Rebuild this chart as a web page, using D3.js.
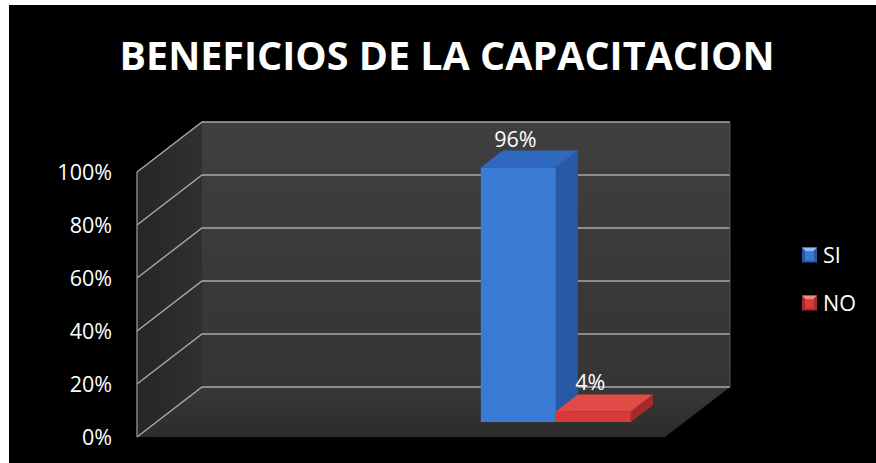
<!DOCTYPE html>
<html>
<head>
<meta charset="utf-8">
<script src="https://cdn.jsdelivr.net/npm/d3@7"></script>
<style>
  html, body { margin: 0; padding: 0; background: #fff; }
  svg { display: block; }
</style>
</head>
<body>
<svg id="chart" width="876" height="463"></svg>
<script>
// Chart data
const title = "BENEFICIOS DE LA CAPACITACION";
const categories = ["Beneficios"];
const series = ["SI", "NO"];
const values = [0.96, 0.04];
const valueLabels = ["96%", "4%"];
const ticks = [0, 0.2, 0.4, 0.6, 0.8, 1];
const tickLabels = ["0%", "20%", "40%", "60%", "80%", "100%"];

const W = 876, H = 463;
const svg = d3.select("#chart");
const font = "'Open Sans', 'Liberation Sans', sans-serif";

// Frame: white margin on top/left, black chart area
svg.append("rect").attr("width", W).attr("height", H).attr("fill", "#fff");
svg.append("rect").attr("x", 9).attr("y", 5).attr("width", W - 9).attr("height", H - 5).attr("fill", "#000");

// 3D geometry: front plane scales plus a depth offset for the back wall
const x = d3.scaleBand().domain(categories).range([137, 665])
  .paddingInner(0).paddingOuter(1.26).align(0.858);
const xs = d3.scaleBand().domain(series).range([0, x.bandwidth()]);
const y = d3.scaleLinear().domain([0, 1]).range([437, 172]);
const depth = { dx: 65, dy: -50 };
const x0 = 137, x1 = 665;

const defs = svg.append("defs");
const wallGrad = defs.append("linearGradient").attr("id", "wall").attr("x1", 0).attr("y1", 0).attr("x2", 0).attr("y2", 1);
wallGrad.append("stop").attr("offset", 0).attr("stop-color", "#3f3f3f");
wallGrad.append("stop").attr("offset", 1).attr("stop-color", "#353535");
const sideGrad = defs.append("linearGradient").attr("id", "side").attr("x1", 0).attr("y1", 0).attr("x2", 1).attr("y2", 0);
sideGrad.append("stop").attr("offset", 0).attr("stop-color", "#262626");
sideGrad.append("stop").attr("offset", 1).attr("stop-color", "#303030");
const floorGrad = defs.append("linearGradient").attr("id", "floor").attr("x1", 0).attr("y1", 0).attr("x2", 0).attr("y2", 1);
floorGrad.append("stop").attr("offset", 0).attr("stop-color", "#383838");
floorGrad.append("stop").attr("offset", 1).attr("stop-color", "#2c2c2c");

const line = d3.line();
const pt = (px, py, f) => [px + depth.dx * f, py + depth.dy * f];

// Back wall
svg.append("path")
  .attr("d", line([pt(x0, y(1), 1), pt(x1, y(1), 1), pt(x1, y(0), 1), pt(x0, y(0), 1)]) + "Z")
  .attr("fill", "url(#wall)");
// Side wall
svg.append("path")
  .attr("d", line([[x0, y(1)], pt(x0, y(1), 1), pt(x0, y(0), 1), [x0, y(0)]]) + "Z")
  .attr("fill", "url(#side)");
// Floor
svg.append("path")
  .attr("d", line([[x0, y(0)], [x1, y(0)], pt(x1, y(0), 1), pt(x0, y(0), 1)]) + "Z")
  .attr("fill", "url(#floor)");

// Gridlines across side wall and back wall
const grid = svg.append("g").attr("stroke", "#a9a9a9").attr("stroke-width", 1.4).attr("fill", "none");
ticks.forEach(t => {
  grid.append("path").attr("d", line([[x0, y(t)], pt(x0, y(t), 1), pt(x1, y(t), 1)]));
});
// Front edge of side wall
grid.append("path").attr("d", line([[x0, y(1)], [x0, y(0)]])).attr("stroke", "#8a8a8a");
// Right edge of back wall
svg.append("path").attr("d", line([pt(x1, y(1), 1), pt(x1, y(0), 1)]))
  .attr("stroke", "#555").attr("stroke-width", 1).attr("fill", "none");

// Axis labels
svg.append("g").selectAll("text").data(ticks).join("text")
  .attr("x", 112).attr("y", d => y(d)).attr("dy", "0.36em")
  .attr("text-anchor", "end").attr("fill", "#fff")
  .attr("font-family", font).attr("font-size", 21.5)
  .text((d, i) => tickLabels[i]);

// Bars
const colors = {
  SI: { front: "#3a7bd5", side: "#2859a6", top: "#3068c0" },
  NO: { front: "#d8393a", side: "#a52a2a", top: "#e24a46" }
};
const zFront = 0.3, zBack = 0.64;
const bars = svg.append("g");
series.forEach((s, i) => {
  const bx0 = x(categories[0]) + xs(s);
  const bx1 = bx0 + xs.bandwidth();
  const yt = y(values[i]), yb = y(0);
  const c = colors[s];
  const g = bars.append("g");
  // side face
  g.append("path").attr("d", line([pt(bx1, yt, zFront), pt(bx1, yt, zBack), pt(bx1, yb, zBack), pt(bx1, yb, zFront)]) + "Z")
    .attr("fill", c.side);
  // top face
  g.append("path").attr("d", line([pt(bx0, yt, zFront), pt(bx0, yt, zBack), pt(bx1, yt, zBack), pt(bx1, yt, zFront)]) + "Z")
    .attr("fill", c.top);
  // front face
  const f0 = pt(bx0, yt, zFront), f1 = pt(bx1, yb, zFront);
  g.append("rect").attr("x", f0[0]).attr("y", f0[1]).attr("width", f1[0] - f0[0]).attr("height", f1[1] - f0[1])
    .attr("fill", c.front);
  // value label
  const lp = pt((bx0 + bx1) / 2, yt, zBack);
  const fp = pt((bx0 + bx1) / 2, yt, zFront);
  g.append("text").attr("x", fp[0] - 3).attr("y", lp[1] - 4)
    .attr("text-anchor", "middle").attr("fill", "#fff")
    .attr("font-family", font).attr("font-size", 21.5)
    .text(valueLabels[i]);
});

// Title
svg.append("text").attr("x", 447).attr("y", 70).attr("text-anchor", "middle")
  .attr("fill", "#fff").attr("font-family", font).attr("font-weight", "bold")
  .attr("font-size", 39).attr("textLength", 655).attr("lengthAdjust", "spacingAndGlyphs")
  .text(title);

// Legend
const legend = svg.append("g");
const legendY = d3.scalePoint().domain(series).range([255, 303]);
series.forEach(s => {
  const c = colors[s];
  const ly = legendY(s);
  const g = legend.append("g").attr("transform", `translate(802,${ly - 7.5})`);
  g.append("rect").attr("width", 15).attr("height", 15).attr("fill", c.side);
  g.append("path").attr("d", "M0,0L15,0L11,4L4,4Z").attr("fill", s === "SI" ? "#8ec0f5" : "#f08a88");
  g.append("rect").attr("x", 3).attr("y", 4).attr("width", 9).attr("height", 9).attr("fill", c.front);
  legend.append("text").attr("x", 823).attr("y", ly).attr("dy", "0.36em")
    .attr("fill", "#fff").attr("font-family", font).attr("font-size", 21.5)
    .text(s);
});
</script>
</body>
</html>
